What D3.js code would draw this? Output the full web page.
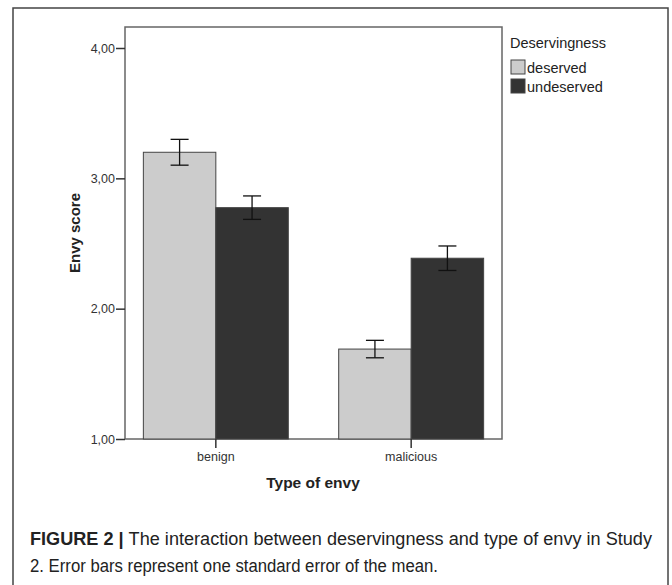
<!DOCTYPE html>
<html>
<head>
<meta charset="utf-8">
<script src="https://cdn.jsdelivr.net/npm/d3@7"></script>
<style>
  body { margin: 0; background: #fff; }
  text { font-family: "Liberation Sans", Arial, sans-serif; }
</style>
</head>
<body>
<svg id="chart" width="672" height="585"></svg>
<script>
const categories = ["benign", "malicious"];
const series = ["deserved", "undeserved"];
const means = {
    deserved: [3.20, 1.69],
    undeserved: [2.775, 2.387]
};
const stdErr = {
    deserved: [0.099, 0.067],
    undeserved: [0.090, 0.094]
};
const yTicks = [1, 2, 3, 4];
const colors = ["#cccccc", "#333333"];

const svg = d3.select("#chart");

// outer figure box
svg.append("rect")
    .attr("x", 13).attr("y", 8)
    .attr("width", 655).attr("height", 600)
    .attr("fill", "none")
    .attr("stroke", "#444")
    .attr("stroke-width", 1.5);

const plotLeft = 125, plotRight = 502, plotTop = 27, plotBottom = 439;

const x = d3.scaleBand()
    .domain(categories)
    .range([plotLeft, plotRight])
    .paddingInner(0.258)
    .paddingOuter(0.094);

const xInner = d3.scaleBand()
    .domain(series)
    .range([0, x.bandwidth()]);

const y = d3.scaleLinear()
    .domain([1, 4])
    .range([plotBottom, 48]);

const color = d3.scaleOrdinal().domain(series).range(colors);

// plot frame
svg.append("rect")
    .attr("x", plotLeft).attr("y", plotTop)
    .attr("width", plotRight - plotLeft).attr("height", plotBottom - plotTop)
    .attr("fill", "none")
    .attr("stroke", "#666")
    .attr("stroke-width", 1.5);

const rows = [];
series.forEach(s => {
    categories.forEach((c, i) => {
        rows.push({ cat: c, ser: s, value: means[s][i], se: stdErr[s][i] });
    });
});

svg.append("g")
    .selectAll("rect")
    .data(rows)
    .enter().append("rect")
    .attr("x", d => x(d.cat) + xInner(d.ser))
    .attr("y", d => y(d.value))
    .attr("width", xInner.bandwidth())
    .attr("height", d => y(1) - y(d.value))
    .attr("fill", d => color(d.ser))
    .attr("stroke", "#444")
    .attr("stroke-width", 1);

// error bars
const err = svg.append("g")
    .attr("stroke", "#111")
    .attr("stroke-width", 1.3)
    .selectAll("g")
    .data(rows)
    .enter().append("g")
    .attr("transform", d => "translate(" + (x(d.cat) + xInner(d.ser) + xInner.bandwidth() / 2) + ",0)");

err.append("line")
    .attr("y1", d => y(d.value + d.se))
    .attr("y2", d => y(d.value - d.se));
err.append("line")
    .attr("x1", -9).attr("x2", 9)
    .attr("y1", d => y(d.value + d.se))
    .attr("y2", d => y(d.value + d.se));
err.append("line")
    .attr("x1", -9).attr("x2", 9)
    .attr("y1", d => y(d.value - d.se))
    .attr("y2", d => y(d.value - d.se));

// axes
const yAxis = svg.append("g")
    .attr("transform", "translate(" + plotLeft + ",0)")
    .call(d3.axisLeft(y)
        .tickValues(yTicks)
        .tickSize(9)
        .tickPadding(1)
        .tickFormat(d => d3.format(".2f")(d).replace(".", ",")));
yAxis.select(".domain").remove();
yAxis.selectAll("line").attr("stroke", "#333").attr("stroke-width", 1.5);
yAxis.selectAll("text")
    .attr("font-size", 12.5)
    .attr("fill", "#333")
    .style("font-family", "Liberation Sans, Arial, sans-serif");

const xAxis = svg.append("g")
    .attr("transform", "translate(0," + plotBottom + ")")
    .call(d3.axisBottom(x).tickSize(9).tickPadding(4));
xAxis.select(".domain").remove();
xAxis.selectAll("line").attr("stroke", "#333").attr("stroke-width", 1.5);
xAxis.selectAll("text")
    .attr("font-size", 12.5)
    .attr("fill", "#333")
    .style("font-family", "Liberation Sans, Arial, sans-serif");

svg.append("text")
    .attr("x", 313).attr("y", 488)
    .attr("text-anchor", "middle")
    .attr("font-size", 15.5)
    .attr("font-weight", "bold")
    .attr("fill", "#222")
    .text("Type of envy");

svg.append("text")
    .attr("transform", "translate(80,233) rotate(-90)")
    .attr("text-anchor", "middle")
    .attr("font-size", 15)
    .attr("font-weight", "bold")
    .attr("fill", "#222")
    .text("Envy score");

// legend
const legend = svg.append("g").attr("transform", "translate(511,0)");
legend.append("text")
    .attr("x", -1).attr("y", 48)
    .attr("font-size", 14.5)
    .attr("fill", "#222")
    .text("Deservingness");

const item = legend.selectAll(".item")
    .data(series)
    .enter().append("g")
    .attr("class", "item")
    .attr("transform", (d, i) => "translate(0," + (60 + i * 19) + ")");
item.append("rect")
    .attr("width", 14).attr("height", 14)
    .attr("fill", d => color(d))
    .attr("stroke", "#444");
item.append("text")
    .attr("x", 16).attr("y", 12.5)
    .attr("font-size", 14.5)
    .attr("fill", "#222")
    .text(d => d);

// caption
const cap1 = svg.append("text")
    .attr("x", 30).attr("y", 545)
    .attr("font-size", 17.5)
    .attr("fill", "#222")
    .attr("textLength", 622)
    .attr("lengthAdjust", "spacingAndGlyphs");
cap1.append("tspan").attr("font-weight", "bold").text("FIGURE 2 | ");
cap1.append("tspan").text("The interaction between deservingness and type of envy in Study");

svg.append("text")
    .attr("x", 30).attr("y", 572)
    .attr("font-size", 17.5)
    .attr("fill", "#222")
    .attr("textLength", 408)
    .attr("lengthAdjust", "spacingAndGlyphs")
    .text("2. Error bars represent one standard error of the mean.");
</script>
</body>
</html>
